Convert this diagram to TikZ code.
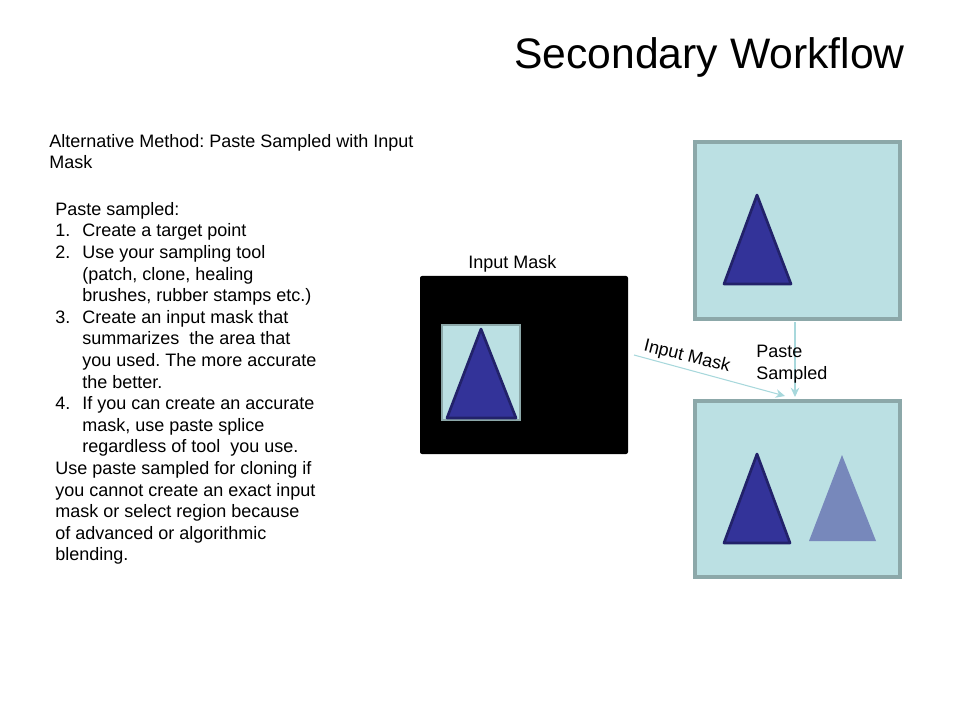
\documentclass[tikz,border=0pt]{standalone}
\usepackage{fontspec}
\setmainfont{Liberation Sans}
\usetikzlibrary{arrows.meta}
\definecolor{panel}{HTML}{BBE0E3}
\definecolor{panelrim}{HTML}{8CA8A9}
\definecolor{tri}{HTML}{333399}
\definecolor{tririm}{HTML}{22226A}
\definecolor{trilight}{HTML}{7788BB}
\definecolor{flow}{HTML}{A8D8DC}
\frenchspacing
\begin{document}
\begin{tikzpicture}[x=0.75pt,y=-0.75pt,
  panelbox/.style={draw=panelrim, fill=panel, line width=2.6pt, inner sep=0pt},
  maskbox/.style={fill=black, rounded corners=1.5pt, inner sep=0pt},
  solidtri/.style={fill=tri, draw=tririm, line width=2pt, line join=round},
  ghosttri/.style={fill=trilight},
  flowarrow/.style={draw=flow, line width=0.8pt, -{Stealth[length=7pt,width=6.5pt]}},
  bodytext/.style={font=\fontsize{13.5}{16.2}\selectfont, align=left, inner sep=0pt},
  labeltext/.style={font=\fontsize{13.5}{16.2}\selectfont, inner sep=0pt}]
  \useasboundingbox (0,0) rectangle (960,720);

  % title
  \node[anchor=base east, font=\fontsize{32}{38}\selectfont, inner sep=0pt] (title) at (905,69) {Secondary Workflow};

  % explanatory text on the left
  \node[bodytext, anchor=north west] (method) at (49,134) {Alternative Method: Paste Sampled with Input\\Mask};
  \node[bodytext, anchor=north west] (steps) at (55,202) {%
    Paste sampled:\\
    \makebox[20.25pt][l]{1.}Create a target point\\
    \makebox[20.25pt][l]{2.}Use your sampling tool\\
    \hspace*{20.25pt}(patch, clone, healing\\
    \hspace*{20.25pt}brushes, rubber stamps etc.)\\
    \makebox[20.25pt][l]{3.}Create an input mask that\\
    \hspace*{20.25pt}summarizes\ \ the area that\\
    \hspace*{20.25pt}you used. The more accurate\\
    \hspace*{20.25pt}the better.\\
    \makebox[20.25pt][l]{4.}If you can create an accurate\\
    \hspace*{20.25pt}mask, use paste splice\\
    \hspace*{20.25pt}regardless of tool\ \ you use.\\
    Use paste sampled for cloning if\\
    you cannot create an exact input\\
    mask or select region because\\
    of advanced or algorithmic\\
    blending.};

  % input mask: black frame with the sampled patch
  \node[labeltext, anchor=base west] (masklabel) at (468,269) {Input Mask};
  \node[maskbox, minimum width={208*0.75pt}, minimum height={178*0.75pt}] (mask) at (524,365) {};
  \node[panelbox, line width=2pt, minimum width={78*0.75pt}, minimum height={95*0.75pt}] (patch) at (481,372.5) {};
  \draw[solidtri] (481,329) -- (516,418) -- (447,418) -- cycle;

  % source image
  \node[panelbox, minimum width={205*0.75pt}, minimum height={177*0.75pt}] (source) at (797.5,230.5) {};
  \draw[solidtri] (757,195) -- (791,284) -- (724,284) -- cycle;

  % result image
  \node[panelbox, minimum width={205*0.75pt}, minimum height={176*0.75pt}] (result) at (797.5,489) {};
  \draw[solidtri] (757,454) -- (790,543) -- (724,543) -- cycle;
  \fill[ghosttri] (842,455) -- (876,541) -- (809,541) -- cycle;

  % connectors
  \coordinate (maskout) at (634,355);
  \coordinate (maskin) at (785,396);
  \coordinate (srcout) at (795,322);
  \coordinate (srcin) at (795,397);
  \draw[flowarrow] (maskout) -- (maskin);
  \draw[flowarrow] (srcout) -- (srcin);

  \node[labeltext, rotate=-14] (arrowlabel) at (687,357) {Input Mask};
  \node[labeltext, anchor=north west, align=left] (pastelabel) at (756,345) {Paste\\Sampled};
\end{tikzpicture}
\end{document}
